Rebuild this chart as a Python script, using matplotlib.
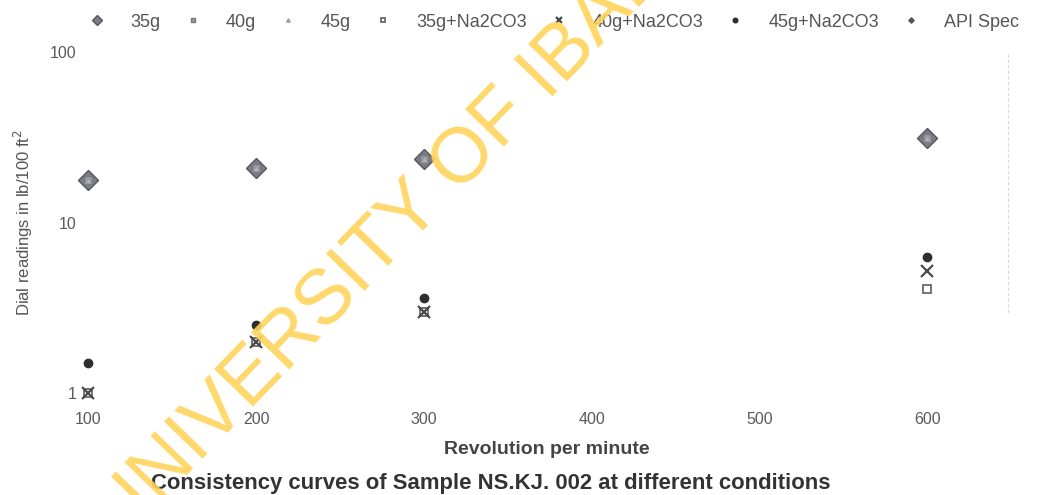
import numpy as np
import matplotlib
matplotlib.use("Agg")
import matplotlib.pyplot as plt

plt.rcParams['font.family'] = ['Liberation Sans', 'DejaVu Sans']

# === ДАННЫЕ ===
rpm = [100, 200, 300, 600]
g35 = [17.8, 21.0, 23.7, 31.4]
g40 = [17.8, 21.0, 23.7, 31.4]
g45 = [17.8, 21.0, 23.7, 31.4]
g35_na = [1.0, 2.0, 3.0, 4.1]
g40_na = [1.0, 2.0, 3.0, 5.2]
g45_na = [1.5, 2.5, 3.6, 6.3]
api = [17.8, 21.0, 23.7, 31.4]

fig = plt.figure(figsize=(10.44, 4.95), dpi=100)
ax = fig.add_axes([0.0814, 0.206, 0.884, 0.689])

ax.plot(rpm, g35, ls='none', marker='D', ms=10, mfc='#7c7c84', mec='#55555c', label='35g', clip_on=False)
ax.plot(rpm, g40, ls='none', marker='s', ms=5.5, mfc='#9a9aa2', mec='#77777e', label='40g', clip_on=False)
ax.plot(rpm, g45, ls='none', marker='^', ms=4.5, mfc='#b8b8be', mec='#9a9aa0', label='45g', clip_on=False)
ax.plot(rpm, g35_na, ls='none', marker='s', ms=6, mfc='white', mec='#6a6a6a', mew=1.3, label='35g+Na2CO3', clip_on=False)
ax.plot(rpm, g40_na, ls='none', marker='x', ms=8, mec='#4a4a4a', mew=1.6, label='40g+Na2CO3', clip_on=False)
ax.plot(rpm, g45_na, ls='none', marker='o', ms=6, mfc='#2e2e2e', mec='#2e2e2e', label='45g+Na2CO3', clip_on=False)
ax.plot(rpm, api, ls='none', marker='D', ms=5, mfc='#555', mec='#555', alpha=0.0, label='API Spec', clip_on=False)

ax.set_yscale('log')
ax.set_ylim(1, 100)
ax.set_xlim(98, 648)
ax.set_xticks([100, 200, 300, 400, 500, 600])
ax.set_yticks([1, 10, 100])
ax.set_yticklabels(['1', '10', '100'])
ax.minorticks_off()
ax.tick_params(axis='both', length=0, labelsize=11.5, labelcolor='#5a5a5a')
ax.tick_params(axis='x', pad=14)
ax.tick_params(axis='y', pad=6)
for s in ['top', 'left', 'bottom']:
    ax.spines[s].set_visible(False)
ax.spines['right'].set_linestyle((0, (2, 3)))
ax.spines['right'].set_color('#d8d8d8')
ax.spines['right'].set_bounds(3, 100)

ax.set_xlabel('Revolution per minute', fontsize=14, fontweight='bold', color='#444', labelpad=10)
ax.set_ylabel('Dial readings in lb/100 ft$^2$', fontsize=12, color='#555', labelpad=11)

# легенда сверху, обрезается справа
handles, labels = ax.get_legend_handles_labels()
leg = fig.legend(handles, labels, loc='upper left', bbox_to_anchor=(0.069, 1.005), ncol=7,
                 frameon=False, fontsize=13, handlelength=1.0, handletextpad=1.33,
                 columnspacing=1.28, markerscale=0.55)
for t in leg.get_texts():
    t.set_color('#555')
for h in leg.legend_handles:
    h.set_alpha(1.0)

fig.text(0.47, 0.003, 'Consistency curves of Sample NS.KJ. 002 at different conditions',
         ha='center', va='bottom', fontsize=15.9, fontweight='bold', color='#333')

# водяной знак
fig.text(0.115, -0.099, 'UNIVERSITY OF IBADAN', rotation=46, rotation_mode='anchor',
         ha='left', va='baseline', fontsize=56,
         color='#FFD45C', alpha=0.9, zorder=10)

plt.savefig('out.png', dpi=100)
